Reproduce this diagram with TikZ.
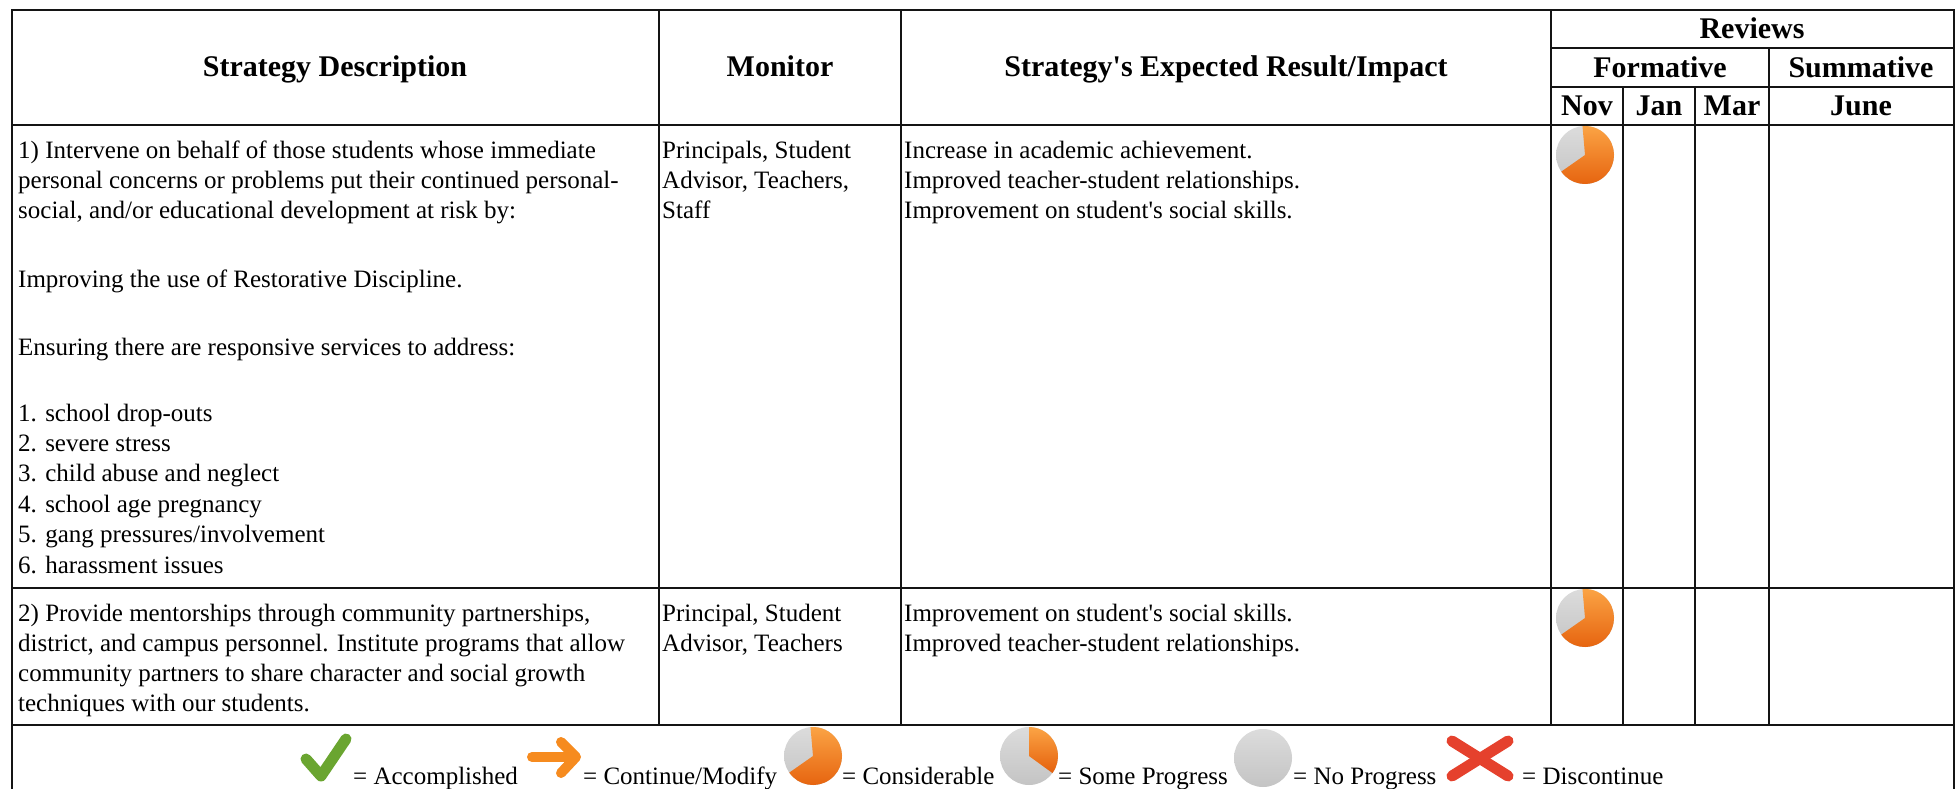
\documentclass[tikz,border=0pt]{standalone}
\usepackage{fontspec}
\setmainfont{Liberation Serif}
\definecolor{bordc}{HTML}{141414}
\definecolor{pieorlt}{HTML}{FBA445}
\definecolor{pieordk}{HTML}{E5600C}
\definecolor{piegr}{HTML}{C4C4C4}
\definecolor{piegrlt}{HTML}{DCDCDC}
\definecolor{chkgreen}{HTML}{6AA530}
\definecolor{chkgreenlt}{HTML}{8CC63F}
\definecolor{arrorange}{HTML}{F68B1F}
\definecolor{xred}{HTML}{E5412D}
\begin{document}
\begin{tikzpicture}[x=1pt,y=-1pt,
  grid/.style={draw=bordc, line width=2.2pt},
  hdr/.style={font=\fontsize{30}{34}\selectfont\bfseries, inner sep=0pt, anchor=base},
  body/.style={font=\fontsize{25}{30}\selectfont, inner sep=0pt, anchor=base west},
  pics/progpie/.style 2 args={code={
    \begin{scope}[y=1pt]
      \shade[top color=piegrlt, bottom color=piegr] (0,0) circle[radius=29];
      \shade[top color=pieorlt, bottom color=pieordk] (0,0) -- (#1:29) arc[start angle=#1, end angle=#2, radius=29] -- cycle;
    \end{scope}}},
  pics/nopie/.style={code={
    \begin{scope}[y=1pt]
      \shade[top color=piegrlt, bottom color=piegr] (0,0) circle[radius=29];
    \end{scope}}},
]
\useasboundingbox (0,0) rectangle (1957,789);
\fill[white] (0,0) rectangle (1957,789);

% ---- grid ----
\draw[grid, line join=miter] (12,789) -- (12,10) -- (1954,10) -- (1954,789);
\draw[grid] (12,125) -- (1954,125);
\draw[grid] (12,588) -- (1954,588);
\draw[grid] (12,725) -- (1954,725);
\draw[grid] (1551,48) -- (1954,48);
\draw[grid] (1551,87) -- (1954,87);
\draw[grid] (659,10) -- (659,725);
\draw[grid] (901,10) -- (901,725);
\draw[grid] (1551,10) -- (1551,725);
\draw[grid] (1769,48) -- (1769,725);
\draw[grid] (1623,87) -- (1623,725);
\draw[grid] (1695,87) -- (1695,725);

% ---- headers ----
\node[hdr] (hs) at (335,77) {Strategy Description};
\node[hdr] (hm) at (780,77) {Monitor};
\node[hdr] (he) at (1226,77) {Strategy\textquotesingle s Expected Result/Impact};
\node[hdr] (hr) at (1752,39) {Reviews};
\node[hdr] (hf) at (1660,78) {Formative};
\node[hdr] (hsu) at (1861,78) {Summative};
\node[hdr] (hn) at (1587,116) {Nov};
\node[hdr] (hj) at (1659,116) {Jan};
\node[hdr] (hma) at (1732,116) {Mar};
\node[hdr] (hju) at (1861,116) {June};

% ---- row 1 ----
\node[body] (a1) at (18,158) {1) Intervene on behalf of those students whose immediate};
\node[body] (a2) at (18,188) {personal concerns or problems put their continued personal-};
\node[body] (a3) at (18,218) {social, and/or educational development at risk by:};
\node[body] (a4) at (18,287) {Improving the use of Restorative Discipline.};
\node[body] (a5) at (18,355) {Ensuring there are responsive services to address:};
\node[body] (a6) at (18,421) {1. school drop-outs};
\node[body] (a7) at (18,451) {2. severe stress};
\node[body] (a8) at (18,481) {3. child abuse and neglect};
\node[body] (a9) at (18,512) {4. school age pregnancy};
\node[body] (a10) at (18,542) {5. gang pressures/involvement};
\node[body] (a11) at (18,573) {6. harassment issues};

\node[body] (m1) at (662,158) {Principals, Student};
\node[body] (m2) at (662,188) {Advisor, Teachers,};
\node[body] (m3) at (662,218) {Staff};

\node[body] (r1) at (904,158) {Increase in academic achievement.};
\node[body] (r2) at (904,188) {Improved teacher-student relationships.};
\node[body] (r3) at (904,218) {Improvement on student\textquotesingle s social skills.};

\pic at (1585,155) {progpie={215}{455}};

% ---- row 2 ----
\node[body] (b1) at (18,621) {2) Provide mentorships through community partnerships,};
\node[body] (b2) at (18,651) {district, and campus personnel. Institute programs that allow};
\node[body] (b3) at (18,681) {community partners to share character and social growth};
\node[body] (b4) at (18,711) {techniques with our students.};

\node[body] (n1) at (662,621) {Principal, Student};
\node[body] (n2) at (662,651) {Advisor, Teachers};

\node[body] (q1) at (904,621) {Improvement on student\textquotesingle s social skills.};
\node[body] (q2) at (904,651) {Improved teacher-student relationships.};

\pic at (1585,618) {progpie={215}{455}};

% ---- legend ----
\draw[chkgreen, line width=11pt, line cap=round, line join=round] (306,759) -- (321,776) -- (346,739);
\node[body] (l1) at (353,784) {= Accomplished};
\draw[arrorange, line width=10pt, line cap=round] (532,757) -- (570,757);
\draw[arrorange, line width=10pt, line cap=round, line join=round] (561,742) -- (576,757) -- (561,773);
\node[body] (l2) at (583,784) {= Continue/Modify};
\pic at (813,756) {progpie={215}{455}};
\node[body] (l3) at (842,784) {= Considerable};
\pic at (1029,756) {progpie={-36}{90}};
\node[body] (l4) at (1058,784) {= Some Progress};
\pic at (1263,758) {nopie};
\node[body] (l5) at (1293,784) {= No Progress};
\draw[xred, line width=11pt, line cap=round] (1452,741) -- (1508,776);
\draw[xred, line width=11pt, line cap=round] (1508,741) -- (1452,776);
\node[body] (l6) at (1522,784) {= Discontinue};
\end{tikzpicture}
\end{document}
